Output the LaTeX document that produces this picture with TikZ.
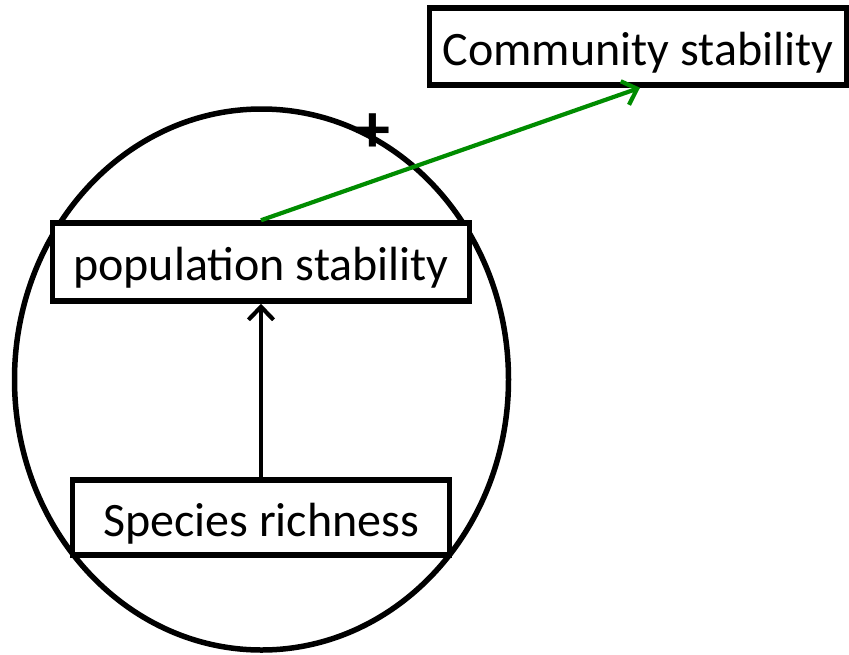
\documentclass[tikz,border=0pt]{standalone}
\usepackage{fontspec}
\setmainfont{Carlito}
\usetikzlibrary{arrows.meta}
\begin{document}
\begin{tikzpicture}[x=1pt,y=-1pt,
  labelbox/.style={draw=black, line width=5.5pt, fill=white, font=\fontsize{48}{56}\selectfont,
    inner sep=0pt, text height=37pt, text depth=0pt},
  link/.style={line width=4.2pt, -{Straight Barb[length=13pt,width=25pt,line width=4.2pt]}}]
\useasboundingbox (0,0) rectangle (849,654);
% outer grouping ellipse
\draw[line width=5.5pt] (261.5,379.5) ellipse [x radius=247, y radius=270.5];
% boxes
\node[labelbox, minimum width=417pt, minimum height=77pt] (comm) at (638,46.5) {Community stability};
\node[labelbox, minimum width=417pt, minimum height=78pt] (pop) at (261,262) {population stability};
\node[labelbox, minimum width=377pt, minimum height=75pt] (rich) at (261,517.5) {Species richness};
% connectors
\draw[link] (rich.north) -- (pop.south);
\draw[link, draw=green!55!black] (pop.north) -- ([xshift=2pt]comm.south);
\node[font=\fontsize{70}{70}\selectfont\bfseries, inner sep=0pt] (plus) at (373,133) {+};
\end{tikzpicture}
\end{document}
